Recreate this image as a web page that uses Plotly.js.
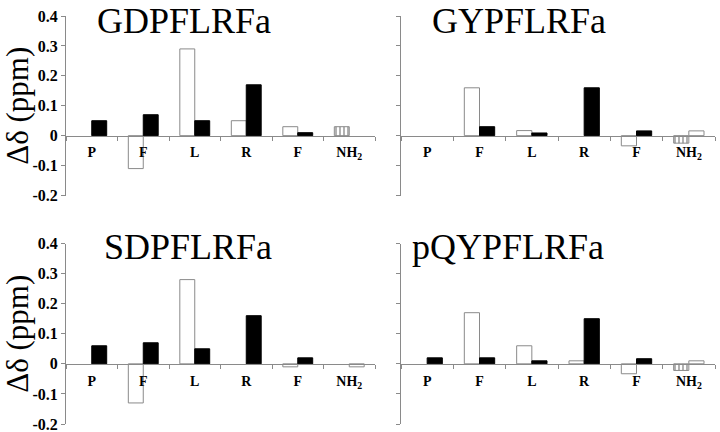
<!DOCTYPE html>
<html>
<head>
<meta charset="utf-8">
<script src="https://cdn.plot.ly/plotly-3.0.1.min.js"></script>
<style>
  body { margin: 0; background: #fff; }
  #myDiv { width: 720px; height: 432px; }
</style>
</head>
<body>
<div id="myDiv"></div>
<script>
// residues along each peptide (the two F's need their own keys)
var residueKeys = ['P', 'F4', 'L', 'R', 'F7', 'NH2'];
var residueLabels = ['P', 'F', 'L', 'R', 'F', 'NH<sub>2</sub>'];

var peptides = ['GDPFLRFa', 'GYPFLRFa', 'SDPFLRFa', 'pQYPFLRFa'];

// open bars (last one = striped NH2 proton); null = no bar drawn
var gdpOpen   = [null, -0.11, 0.29, 0.05, 0.03, 0.03];
var gypOpen   = [null, 0.16, 0.017, null, -0.034, -0.025];
var sdpOpen   = [null, -0.13, 0.28, null, -0.01, null];
var pqyOpen   = [null, 0.17, 0.06, 0.01, -0.033, -0.022];

// filled bars (last one = second NH2 proton, drawn open)
var gdpFilled = [0.05, 0.07, 0.05, 0.17, 0.01, null];
var gypFilled = [null, 0.03, 0.009, 0.16, 0.016, 0.016];
var sdpFilled = [0.06, 0.07, 0.05, 0.16, 0.02, -0.01];
var pqyFilled = [0.02, 0.02, 0.01, 0.15, 0.017, 0.01];

var yTickVals = [-0.2, -0.1, 0, 0.1, 0.2, 0.3, 0.4];
var yTickText = ['-0.2', '-0.1', '0', '0.1', '0.2', '0.3', '0.4'];

function shiftPlots() {
  var openSets = [gdpOpen, gypOpen, sdpOpen, pqyOpen];
  var filledSets = [gdpFilled, gypFilled, sdpFilled, pqyFilled];
  var serif = 'Liberation Serif, Times New Roman, serif';
  var grey = '#8a8a8a';

  // pixel boxes of the four panels -> paper fractions
  var xDoms = [[66/720, 375/720], [401/720, 715/720]];
  var yDoms = [[1 - 195.5/432, 1 - 16/432], [1 - 424/432, 1 - 243.5/432]];
  var titleX = [95/720, 430/720, 102/720, 410/720];
  var titleY = [1 - 21/432, 1 - 21/432, 1 - 247/432, 1 - 247/432];

  var data = [];
  var layout = {
    width: 720, height: 432,
    margin: {l: 0, r: 0, t: 0, b: 0},
    paper_bgcolor: 'white', plot_bgcolor: 'white',
    showlegend: false,
    barmode: 'group', bargap: 0.42, bargroupgap: 0,
    font: {family: serif, color: 'black'},
    annotations: []
  };

  for (var i = 0; i < 4; i++) {
    var n = i + 1;
    var xa = n === 1 ? 'x' : 'x' + n;
    var ya = n === 1 ? 'y' : 'y' + n;
    var col = i % 2, row = Math.floor(i / 2);
    var yDom = yDoms[row];

    var lastFill = [], lastLine = [], shapes = [];
    for (var k = 0; k < residueKeys.length; k++) {
      var isAmide = residueKeys[k] === 'NH2';
      lastFill.push(isAmide ? 'white' : 'black');
      lastLine.push(isAmide ? grey : 'black');
      shapes.push(isAmide ? '|' : '');
    }

    data.push({
      type: 'bar', x: residueKeys, y: openSets[i], xaxis: xa, yaxis: ya,
      marker: {
        color: 'white',
        line: {color: grey, width: 1},
        pattern: {shape: shapes, fgcolor: '#222', bgcolor: 'white', size: 4, solidity: 0.35, fillmode: 'overlay'}
      },
      hoverinfo: 'y'
    });
    data.push({
      type: 'bar', x: residueKeys, y: filledSets[i], xaxis: xa, yaxis: ya,
      marker: {color: lastFill, line: {color: lastLine, width: 1}},
      hoverinfo: 'y'
    });

    var xName = n === 1 ? 'xaxis' : 'xaxis' + n;
    var yName = n === 1 ? 'yaxis' : 'yaxis' + n;

    layout[xName] = {
      domain: xDoms[col],
      anchor: 'free',
      position: yDom[0] + (yDom[1] - yDom[0]) / 3,
      type: 'category',
      range: [-0.5, 5.5],
      tickmode: 'array', tickvals: residueKeys, ticktext: residueLabels,
      tickson: 'boundaries',
      ticks: 'outside', ticklen: 4, tickcolor: grey,
      ticklabelstandoff: 4,
      showline: true, linecolor: grey, linewidth: 1,
      showgrid: false, zeroline: false,
      tickfont: {family: serif, size: 14, weight: 'bold', color: 'black'},
      fixedrange: true
    };
    layout[yName] = {
      domain: yDom,
      anchor: xa,
      range: [-0.2, 0.4],
      tickmode: 'array', tickvals: yTickVals, ticktext: yTickText,
      ticks: 'outside', ticklen: 4, tickcolor: grey,
      showticklabels: col === 0,
      ticklabeloverflow: 'allow',
      showline: true, linecolor: grey, linewidth: 1,
      showgrid: false, zeroline: false,
      tickfont: {family: serif, size: 16, weight: 'bold', color: 'black'},
      fixedrange: true
    };
    if (col === 0) {
      layout[yName].title = {text: 'Δδ (ppm)', font: {family: serif, size: 31, color: 'black'}, standoff: 4};
    }

    layout.annotations.push({
      text: peptides[i], xref: 'paper', yref: 'paper',
      x: titleX[i], y: titleY[i], xanchor: 'left', yanchor: 'middle',
      showarrow: false,
      font: {family: serif, size: 36, color: 'black'}
    });
  }

  Plotly.newPlot('myDiv', data, layout, {displayModeBar: false, staticPlot: true});
}
shiftPlots();
</script>
</body>
</html>
